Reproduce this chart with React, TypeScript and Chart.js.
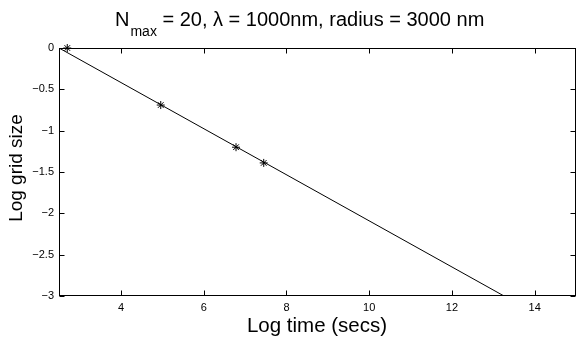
import React, { useEffect, useRef } from "react";
import { Chart, registerables } from "chart.js";

Chart.register(...registerables);

// ---- data ----
const markerTimes = [2.7, 4.96, 6.78, 7.45];
const markerLogSizes = [0, -0.69, -1.2, -1.39];
const fitTimes = [2.5, 13.26];
const fitLogSizes = [0, -3];
const xTicks = [4, 6, 8, 10, 12, 14];
const yTicks = [0, -0.5, -1, -1.5, -2, -2.5, -3];
const titleMain = "N";
const titleSub = "max";
const titleRest = " = 20, \u03bb = 1000nm, radius = 3000 nm";
const xLabel = "Log time (secs)";
const yLabel = "Log grid size";

const FONT = "'Liberation Sans', Arial, Helvetica, sans-serif";

const fmt = (v: number) => (v < 0 ? "\u2212" + String(-v) : String(v));

const framePlugin = {
  id: "matlabFrame",
  afterDatasetsDraw(chart: any) {
    const { ctx, chartArea, scales } = chart;
    const x = scales.x;
    const y = scales.y;
    const L = Math.round(chartArea.left) + 0.5;
    const R = Math.round(chartArea.right) - 0.5;
    const T = Math.round(chartArea.top) + 0.5;
    const B = Math.round(chartArea.bottom) - 0.5;
    ctx.save();
    ctx.strokeStyle = "#000";
    ctx.lineWidth = 1;
    ctx.strokeRect(L, T, R - L, B - T);
    const tl = 5;
    ctx.beginPath();
    for (const v of xTicks) {
      const px = Math.round(x.getPixelForValue(v)) + 0.5;
      ctx.moveTo(px, B);
      ctx.lineTo(px, B - tl);
      ctx.moveTo(px, T);
      ctx.lineTo(px, T + tl);
    }
    for (const v of yTicks) {
      const py = Math.round(y.getPixelForValue(v)) + 0.5;
      ctx.moveTo(L, py);
      ctx.lineTo(L + tl, py);
      ctx.moveTo(R, py);
      ctx.lineTo(R - tl, py);
    }
    ctx.stroke();
    ctx.restore();
  },
  afterDraw(chart: any) {
    const { ctx } = chart;
    ctx.save();
    ctx.fillStyle = "#000";
    ctx.textBaseline = "alphabetic";
    ctx.textAlign = "left";
    // title with subscript
    const mainFont = `20px ${FONT}`;
    const subFont = `14px ${FONT}`;
    let cx = 115;
    const baseY = 26;
    ctx.font = mainFont;
    ctx.fillText(titleMain, cx, baseY);
    cx += ctx.measureText(titleMain).width + 1;
    ctx.font = subFont;
    ctx.fillText(titleSub, cx, baseY + 10);
    cx += ctx.measureText(titleSub).width;
    ctx.font = mainFont;
    ctx.fillText(titleRest, cx, baseY);

    // x label
    ctx.font = `20.5px ${FONT}`;
    ctx.textAlign = "center";
    ctx.fillText(xLabel, 317, 332);

    // y label
    ctx.save();
    ctx.translate(22, 168);
    ctx.rotate(-Math.PI / 2);
    ctx.font = `19px ${FONT}`;
    ctx.textAlign = "center";
    ctx.fillText(yLabel, 0, 0);
    ctx.restore();
    ctx.restore();
  },
};

export default function App() {
  const ref = useRef<HTMLCanvasElement | null>(null);
  useEffect(() => {
    if (!ref.current) return;
    const chart = new Chart(ref.current, {
      type: "scatter",
      data: {
        datasets: [
          {
            label: "fit",
            data: fitTimes.map((t, i) => ({ x: t, y: fitLogSizes[i] })),
            showLine: true,
            borderColor: "#000",
            borderWidth: 1,
            pointRadius: 0,
            fill: false,
          },
          {
            label: "points",
            data: markerTimes.map((t, i) => ({ x: t, y: markerLogSizes[i] })),
            showLine: false,
            pointStyle: "star",
            pointRadius: 4,
            borderColor: "#000",
            backgroundColor: "#000",
            pointBorderWidth: 1,
            clip: false as any,
          },
        ],
      },
      options: {
        animation: false,
        responsive: false,
        devicePixelRatio: 1,
        layout: { padding: { top: 48, right: 5, left: 0, bottom: 0 } },
        plugins: {
          legend: { display: false },
          title: { display: false },
          tooltip: { enabled: false },
        },
        scales: {
          x: {
            type: "linear",
            min: 2.5,
            max: 15,
            grid: { display: false, drawTicks: false },
            border: { display: false },
            afterBuildTicks: (s: any) => {
              s.ticks = xTicks.map((v) => ({ value: v }));
            },
            afterFit: (s: any) => {
              s.height = 43;
            },
            ticks: {
              padding: 5,
              color: "#000",
              font: { family: FONT, size: 11 },
              maxRotation: 0,
              autoSkip: false,
              callback: (v: any) => fmt(Number(v)),
            },
          },
          y: {
            type: "linear",
            min: -3,
            max: 0,
            grid: { display: false, drawTicks: false },
            border: { display: false },
            afterBuildTicks: (s: any) => {
              s.ticks = yTicks.map((v) => ({ value: v }));
            },
            afterFit: (s: any) => {
              s.width = 59;
            },
            ticks: {
              padding: 5,
              color: "#000",
              font: { family: FONT, size: 11 },
              autoSkip: false,
              callback: (v: any) => fmt(Number(v)),
            },
          },
        },
      },
      plugins: [framePlugin],
    });
    return () => chart.destroy();
  }, []);
  return (
    <div style={{ position: "fixed", left: 0, top: 0, width: 581, height: 339, background: "#fff" }}>
      <canvas ref={ref} width={581} height={339} style={{ display: "block" }} />
    </div>
  );
}
